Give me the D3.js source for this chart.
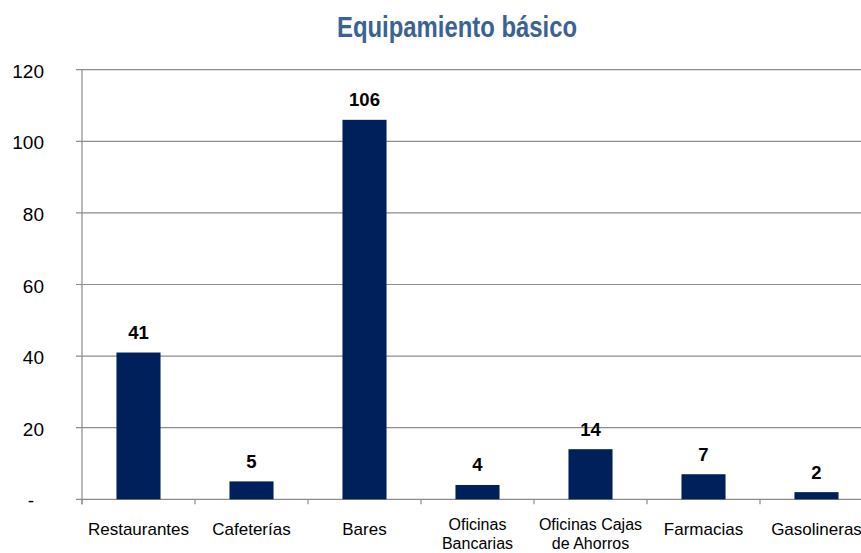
<!DOCTYPE html>
<html>
<head>
<meta charset="utf-8">
<script src="https://cdn.jsdelivr.net/npm/d3@7"></script>
<style>
  body { margin: 0; background: #fff; }
  svg { display: block; }
</style>
</head>
<body>
<div id="chart"></div>
<script>
// Chart data
const categories = [
  ['Restaurantes'],
  ['Cafeterías'],
  ['Bares'],
  ['Oficinas', 'Bancarias'],
  ['Oficinas Cajas', 'de Ahorros'],
  ['Farmacias'],
  ['Gasolineras']
];
const values = [41, 5, 106, 4, 14, 7, 2];
const yTicks = [0, 20, 40, 60, 80, 100, 120];

const width = 861;
const height = 553;
const margin = { top: 69.7, left: 82, bottom: 553 - 499.3 };
// The plot runs a little past the right edge of the picture
const plotRight = 82 + 7 * 113;

const svg = d3.select('#chart')
  .append('svg')
  .attr('width', width)
  .attr('height', height);

// Scales
const x = d3.scaleBand()
  .domain(d3.range(categories.length))
  .range([margin.left, plotRight])
  .paddingInner(0.61)
  .paddingOuter(0.305);

const y = d3.scaleLinear()
  .domain([0, 120])
  .range([height - margin.bottom, margin.top]);

// Horizontal gridlines
svg.append('g')
  .selectAll('line')
  .data(yTicks)
  .enter()
  .append('line')
  .attr('x1', margin.left - 6)
  .attr('x2', plotRight)
  .attr('y1', d => y(d))
  .attr('y2', d => y(d))
  .attr('stroke', '#8c8c8c')
  .attr('stroke-width', 1.2);

// Y axis line
svg.append('line')
  .attr('x1', margin.left)
  .attr('x2', margin.left)
  .attr('y1', y(120))
  .attr('y2', y(0) + 5)
  .attr('stroke', '#8c8c8c')
  .attr('stroke-width', 1.2);

// Y tick labels ("-" stands for zero)
svg.append('g')
  .selectAll('text')
  .data(yTicks)
  .enter()
  .append('text')
  .attr('x', d => d === 0 ? 34 : 44)
  .attr('y', d => y(d) + 8)
  .attr('text-anchor', 'end')
  .style('font-family', 'Liberation Sans, Arial, sans-serif')
  .style('font-size', '19px')
  .attr('fill', '#000')
  .text(d => d === 0 ? '-' : d);

// Category tick marks below baseline
svg.append('g')
  .selectAll('line')
  .data(d3.range(categories.length + 1))
  .enter()
  .append('line')
  .attr('x1', i => margin.left + i * x.step())
  .attr('x2', i => margin.left + i * x.step())
  .attr('y1', y(0))
  .attr('y2', y(0) + 5)
  .attr('stroke', '#8c8c8c')
  .attr('stroke-width', 1.2);

// Bars
svg.append('g')
  .selectAll('rect')
  .data(values)
  .enter()
  .append('rect')
  .attr('x', (d, i) => x(i))
  .attr('width', x.bandwidth())
  .attr('y', d => y(d))
  .attr('height', d => y(0) - y(d))
  .attr('fill', '#00205b');

// Value labels
svg.append('g')
  .selectAll('text')
  .data(values)
  .enter()
  .append('text')
  .attr('x', (d, i) => x(i) + x.bandwidth() / 2)
  .attr('y', d => y(d) - 13.5)
  .attr('text-anchor', 'middle')
  .style('font-family', 'Liberation Sans, Arial, sans-serif')
  .style('font-size', '18.5px')
  .style('font-weight', 'bold')
  .attr('fill', '#000')
  .text(d => d);

// Category labels; two-line ones are a bit smaller so they fit the bottom edge
svg.append('g')
  .selectAll('text')
  .data(categories)
  .enter()
  .append('text')
  .attr('x', (d, i) => x(i) + x.bandwidth() / 2)
  .attr('y', d => d.length > 1 ? 530 : 535)
  .attr('text-anchor', 'middle')
  .style('font-family', 'Liberation Sans, Arial, sans-serif')
  .style('font-size', d => d.length > 1 ? '16px' : '17px')
  .attr('fill', '#000')
  .each(function(d) {
    const t = d3.select(this);
    d.forEach((line, k) => {
      t.append('tspan')
        .attr('x', t.attr('x'))
        .attr('dy', k === 0 ? 0 : 18.5)
        .text(line);
    });
  });

// Title (condensed face, squeezed to the reference width)
svg.append('text')
  .attr('x', 457)
  .attr('y', 36.7)
  .attr('text-anchor', 'middle')
  .attr('textLength', 240)
  .attr('lengthAdjust', 'spacingAndGlyphs')
  .style('font-family', 'Liberation Sans Narrow, Arial Narrow, sans-serif')
  .style('font-size', '29px')
  .style('font-weight', 'bold')
  .attr('fill', '#3b6295')
  .text('Equipamiento básico');
</script>
</body>
</html>
